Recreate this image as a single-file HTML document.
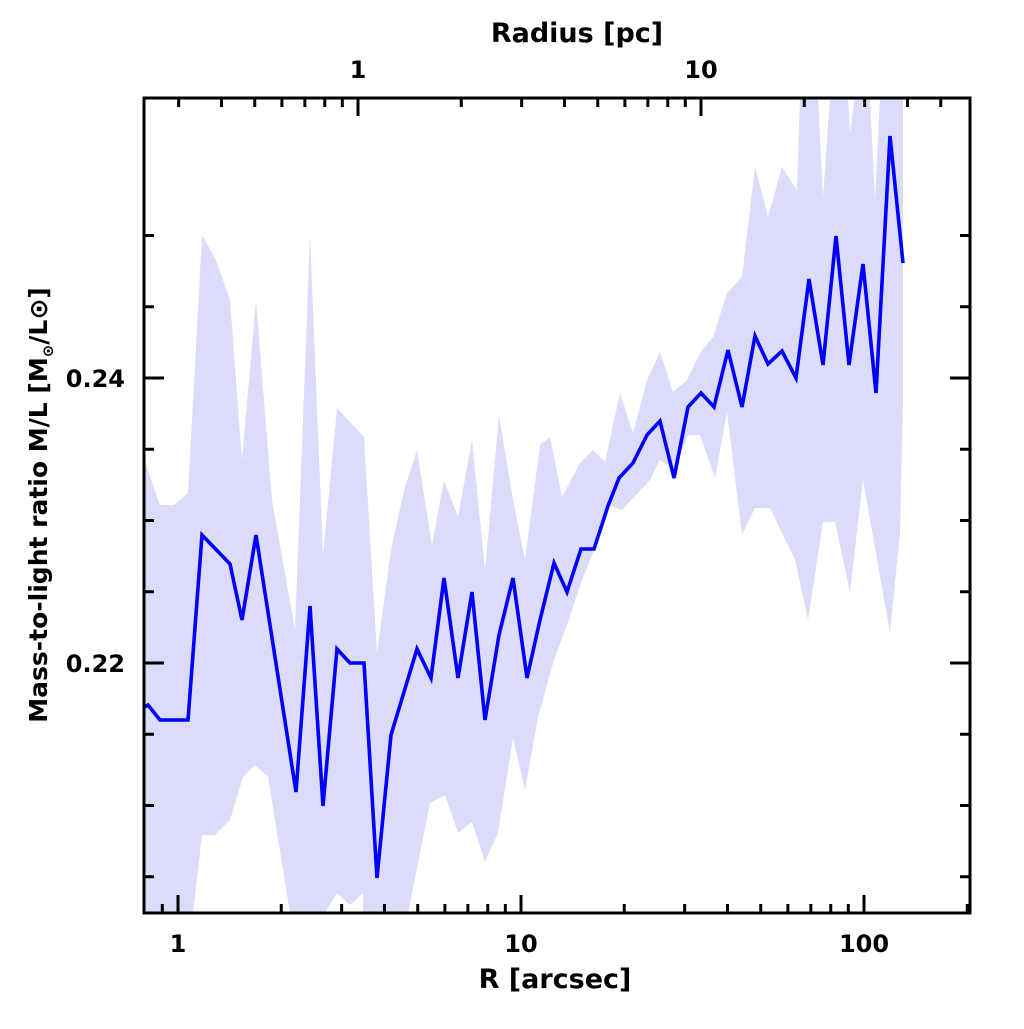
<!DOCTYPE html>
<html><head><meta charset="utf-8"><style>
html,body{margin:0;padding:0;background:#fff}
svg text{font-family:"DejaVu Sans","Liberation Sans",sans-serif;font-weight:bold;fill:#000}
</style></head><body>
<svg id="s" width="1024" height="1024" viewBox="0 0 1024 1024" xmlns="http://www.w3.org/2000/svg">
<defs><clipPath id="c"><rect x="144" y="98" width="826" height="815"/></clipPath></defs>
<g clip-path="url(#c)">
<polygon fill="#dcdcfa" points="140,462 145,462 160,505 174,505 188,493 202,235 216,260 230,300 242,460 256,300 272,500 295,630 310,235 323,555 337,408 350,422 364,437 377,653 391,550 404,490 417,450 432,545 444,480 458,517 472,440 485,570 499,415 513,500 525,560 540,445 550,437 562,497 580,463 593,450 605,462 620,393 633,433 647,380 660,352 673,392 687,380 700,353 713,337 727,293 742,277 755,167 768,217 782,167 797,190 800,97 818,97 823,197 830,97 848,97 850,133 855,97 870,97 875,200 880,97 903,97 903,400 900,533 890,633 863,480 850,592 835,522 823,522 808,620 795,560 770,508 755,508 742,535 727,412 715,478 700,435 688,435 674,470 660,460 650,480 636,495 622,510 608,505 594,550 581,583 567,625 554,660 538,717 525,790 513,738 498,833 485,862 472,822 458,833 445,795 430,803 408,913 363,913 363,893 350,905 337,893 325,913 290,913 268,777 255,765 243,777 230,820 215,835 202,835 193,913 140,913"/>
<polyline fill="none" stroke="#0000ff" stroke-width="3.6" stroke-linejoin="miter" points="145,707 148,705 160,720 188,720 202,535 230,564 242,620 256,535 296,792 310,606 323,806 337,649 350,663 364,663 377,878 391,735 417,649 431,678 444,578 458,678 472,592 485,720 499,635 513,578 527,678 540,620 554,563 567,592 581,549 594,549 608,506 619,478 633,463 647,435 660,421 674,478 688,407 701,393 714,407 728,350 742,407 755,336 768,364 782,351 796,378 809,279 823,365 836,236 849,365 863,264 876,393 890,136 903,263"/>
</g>
<g id="t" stroke="#000" stroke-width="3"></g>
<rect x="144" y="98" width="826" height="815" fill="none" stroke="#000" stroke-width="3"/>
<text x="577" y="42" font-size="27" text-anchor="middle">Radius [pc]</text>
<text x="358" y="78" font-size="24" text-anchor="middle">1</text>
<text x="701" y="78" font-size="24" text-anchor="middle">10</text>
<text x="178" y="952" font-size="24" text-anchor="middle">1</text>
<text x="521" y="952" font-size="24" text-anchor="middle">10</text>
<text x="864" y="952" font-size="24" text-anchor="middle">100</text>
<text x="555" y="988" font-size="27" text-anchor="middle">R [arcsec]</text>
<text x="125" y="387" font-size="24" text-anchor="end">0.24</text>
<text x="125" y="672" font-size="24" text-anchor="end">0.22</text>
<text transform="translate(47,505) rotate(-90)" font-size="25" text-anchor="middle">Mass-to-light ratio M/L [M<tspan font-size="15" dy="6">⊙</tspan><tspan dy="-6">/L⊙]</tspan></text>
</svg>
<script>
var g=document.getElementById('t'),h='';
function L(a,b,c,d){h+='<line x1="'+a+'" y1="'+b+'" x2="'+c+'" y2="'+d+'"/>';}
function lg(v){return Math.log(v)/Math.LN10;}
var bv=[0.8,0.9,1,2,3,4,5,6,7,8,9,10,20,30,40,50,60,70,80,90,100,200];
bv.forEach(function(v){var x=178+343*lg(v);if(x<146||x>968)return;var M=(v==1||v==10||v==100);L(x,913,x,913-(M?18:9));});
var tv=[0.3,0.4,0.5,0.6,0.7,0.8,0.9,1,2,3,4,5,6,7,8,9,10,20,30,40,50];
tv.forEach(function(v){var x=358+343*lg(v);if(x<146||x>968)return;var M=(v==1||v==10);L(x,98,x,98+(M?18:9));});
for(var k=-6;k<=6;k++){var y=663-71.25*k;if(y<100||y>911)continue;var M=(k==0||k==4);var l=M?20:10;L(144,y,144+l,y);L(970,y,970-l,y);}
g.innerHTML=h;
</script>
</body></html>
